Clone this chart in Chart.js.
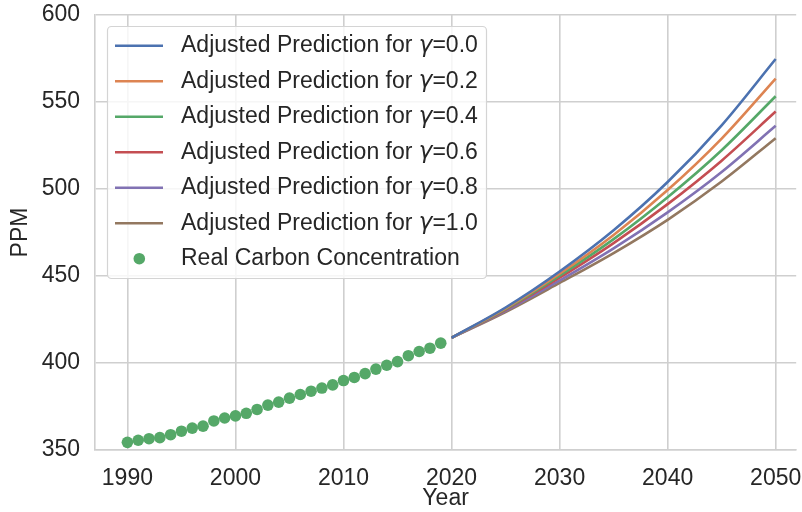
<!DOCTYPE html>
<html>
<head>
<meta charset="utf-8">
<script src="https://cdn.jsdelivr.net/npm/chart.js@4.4.1/dist/chart.umd.min.js"></script>
<style>
  html, body { margin: 0; padding: 0; background: #ffffff; overflow: hidden; }
  #wrap { width: 802px; height: 512px; position: relative; }
</style>
</head>
<body>
<div id="wrap"><canvas id="c" width="802" height="512"></canvas></div>
<script>
// Observed annual mean CO2 concentration (ppm)
const years = [1990, 1991, 1992, 1993, 1994, 1995, 1996, 1997, 1998, 1999,
               2000, 2001, 2002, 2003, 2004, 2005, 2006, 2007, 2008, 2009,
               2010, 2011, 2012, 2013, 2014, 2015, 2016, 2017, 2018, 2019];
const realPPM = [354.4, 355.6, 356.5, 357.1, 358.8, 360.8, 362.6, 363.7, 366.7, 368.4,
                 369.6, 371.1, 373.3, 375.8, 377.5, 379.8, 381.9, 383.8, 385.6, 387.4,
                 389.9, 391.7, 393.9, 396.5, 398.7, 400.8, 404.2, 406.6, 408.5, 411.4];

// Adjusted projections for each gamma
const forecastYears = [2020, 2025, 2030, 2035, 2040, 2045, 2050];
const gammaLabels = ['0.0', '0.2', '0.4', '0.6', '0.8', '1.0'];
const adjGamma00 = [414.5, 431.9, 452.6, 476.3, 504.0, 536.6, 574.7];
const adjGamma02 = [414.5, 431.4, 451.3, 473.6, 499.4, 529.0, 563.5];
const adjGamma04 = [414.5, 431.0, 450.2, 471.2, 495.3, 522.3, 553.3];
const adjGamma06 = [414.5, 430.6, 449.0, 468.9, 491.3, 516.3, 544.5];
const adjGamma08 = [414.5, 429.9, 447.4, 465.9, 486.6, 509.8, 536.3];
const adjGamma10 = [414.5, 429.3, 446.0, 463.2, 482.3, 504.3, 529.2];

const xTicks = [1990, 2000, 2010, 2020, 2030, 2040, 2050];
const yTicks = [350, 400, 450, 500, 550, 600];

const palette = ['#4c72b0', '#dd8452', '#55a868', '#c44e52', '#8172b3', '#937860'];
const FONT = '"Liberation Sans", Arial, sans-serif';
const TEXT = '#262626';
const GRID = '#cfcfcf';

const projections = [adjGamma00, adjGamma02, adjGamma04, adjGamma06, adjGamma08, adjGamma10];

const datasets = projections.map((vals, i) => ({
  label: 'Adjusted Prediction for γ=' + gammaLabels[i],
  data: forecastYears.map((yr, k) => ({ x: yr, y: vals[k] })),
  borderColor: palette[i],
  backgroundColor: palette[i],
  borderWidth: 2.6,
  pointRadius: 0,
  cubicInterpolationMode: 'monotone',
  fill: false
}));

datasets.push({
  label: 'Real Carbon Concentration',
  data: years.map((yr, k) => ({ x: yr, y: realPPM[k] })),
  showLine: false,
  pointRadius: 5.8,
  pointHoverRadius: 5.8,
  pointBorderWidth: 0,
  pointBackgroundColor: '#55a868',
  borderColor: '#55a868',
  backgroundColor: '#55a868'
});

// In-plot legend box with the line / marker handles
const legendBox = {
  id: 'legendBox',
  afterDatasetsDraw(chart) {
    const ctx = chart.ctx;
    ctx.save();
    const x0 = 107.5, y0 = 26.5, w = 379, h = 252;
    ctx.beginPath();
    ctx.roundRect(x0, y0, w, h, 4);
    ctx.fillStyle = 'rgba(255,255,255,0.8)';
    ctx.fill();
    ctx.strokeStyle = '#d4d4d4';
    ctx.lineWidth = 1.2;
    ctx.stroke();

    chart.data.datasets.forEach((ds, i) => {
      const cy = 45.7 + 35.5 * i;
      if (ds.showLine === false) {
        ctx.beginPath();
        ctx.arc(139.3, cy, 5.8, 0, Math.PI * 2);
        ctx.fillStyle = ds.pointBackgroundColor;
        ctx.fill();
      } else {
        ctx.beginPath();
        ctx.moveTo(115, cy);
        ctx.lineTo(163, cy);
        ctx.strokeStyle = ds.borderColor;
        ctx.lineWidth = 2.6;
        ctx.stroke();
      }
      ctx.fillStyle = TEXT;
      ctx.textBaseline = 'middle';
      ctx.textAlign = 'left';
      let tx = 181;
      const parts = ds.label.split('γ');
      ctx.font = '23px ' + FONT;
      ctx.fillText(parts[0], tx, cy);
      tx += ctx.measureText(parts[0]).width;
      if (parts.length > 1) {
        ctx.font = 'italic 23px "DejaVu Sans", sans-serif';
        ctx.fillText('γ', tx, cy);
        tx += ctx.measureText('γ').width;
        ctx.font = '23px ' + FONT;
        ctx.fillText(parts[1], tx, cy);
      }
    });
    ctx.restore();
  }
};

new Chart(document.getElementById('c'), {
  type: 'line',
  data: { datasets },
  plugins: [legendBox],
  options: {
    responsive: false,
    animation: false,
    devicePixelRatio: 1,
    layout: { padding: { top: 15, right: 0, bottom: 0, left: 0 } },
    plugins: { legend: { display: false }, tooltip: { enabled: false } },
    scales: {
      x: {
        type: 'linear',
        min: 1987,
        max: 2051.9,
        afterBuildTicks(scale) { scale.ticks = xTicks.map(v => ({ value: v })); },
        afterFit(scale) { scale.height = 62; scale.paddingLeft = 0; scale.paddingRight = 0; },
        ticks: {
          color: TEXT,
          font: { family: FONT, size: 23 },
          padding: 15,
          maxRotation: 0,
          autoSkip: false,
          callback: v => String(v)
        },
        grid: { color: GRID, lineWidth: 1.6, drawTicks: false },
        border: { color: GRID, width: 1.6 },
        title: {
          display: true,
          text: 'Year',
          color: TEXT,
          font: { family: FONT, size: 23 },
          padding: { top: 0, bottom: 0 }
        }
      },
      y: {
        type: 'linear',
        min: 350,
        max: 600,
        afterBuildTicks(scale) { scale.ticks = yTicks.map(v => ({ value: v })); },
        afterFit(scale) { scale.width = 95; scale.paddingTop = 0; scale.paddingBottom = 0; },
        ticks: {
          color: TEXT,
          font: { family: FONT, size: 23 },
          padding: 15,
          callback: v => String(v)
        },
        grid: { color: GRID, lineWidth: 1.6, drawTicks: false },
        border: { color: GRID, width: 1.6 },
        title: {
          display: true,
          text: 'PPM',
          color: TEXT,
          font: { family: FONT, size: 23 },
          padding: { top: 7, bottom: 0 }
        }
      }
    }
  }
});
</script>
</body>
</html>
